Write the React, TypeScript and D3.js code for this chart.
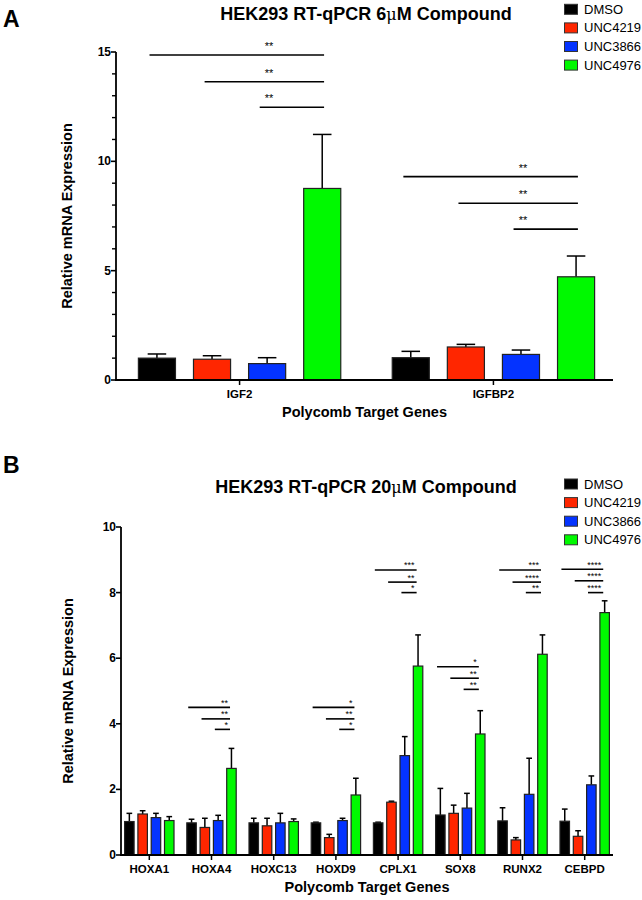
import React from "react";
import * as d3 from "d3";

const series = ["DMSO", "UNC4219", "UNC3866", "UNC4976"];
const seriesColors = ["#000000", "#FF2600", "#0433FF", "#00F900"];

// Panel A
const genesA = ["IGF2", "IGFBP2"];
const meansA = [
  [1.0, 0.95, 0.75, 8.76],
  [1.02, 1.51, 1.17, 4.72],
];
const errsA = [
  [0.19, 0.16, 0.27, 2.47],
  [0.29, 0.12, 0.2, 0.95],
];
const yTicksA = [0, 5, 10, 15];
const sigA = [
  { gene: "IGF2", from: 0, to: 3, y: 14.86, label: "**" },
  { gene: "IGF2", from: 1, to: 3, y: 13.64, label: "**" },
  { gene: "IGF2", from: 2, to: 3, y: 12.47, label: "**" },
  { gene: "IGFBP2", from: 0, to: 3, y: 9.3, label: "**" },
  { gene: "IGFBP2", from: 1, to: 3, y: 8.08, label: "**" },
  { gene: "IGFBP2", from: 2, to: 3, y: 6.9, label: "**" },
];

// Panel B
const genesB = ["HOXA1", "HOXA4", "HOXC13", "HOXD9", "CPLX1", "SOX8", "RUNX2", "CEBPD"];
const meansB = [
  [1.02, 1.25, 1.14, 1.05],
  [0.98, 0.84, 1.05, 2.64],
  [0.98, 0.89, 0.98, 1.02],
  [0.98, 0.53, 1.05, 1.83],
  [0.98, 1.61, 3.03, 5.76],
  [1.22, 1.27, 1.43, 3.69],
  [1.04, 0.46, 1.85, 6.12],
  [1.03, 0.57, 2.14, 7.39],
];
const errsB = [
  [0.25, 0.1, 0.13, 0.12],
  [0.11, 0.28, 0.16, 0.61],
  [0.14, 0.23, 0.29, 0.08],
  [0.02, 0.1, 0.07, 0.51],
  [0.02, 0.03, 0.58, 0.95],
  [0.81, 0.25, 0.45, 0.71],
  [0.4, 0.07, 1.1, 0.59],
  [0.37, 0.17, 0.27, 0.36],
];
const yTicksB = [0, 2, 4, 6, 8, 10];
const sigB = [
  { gene: "HOXA4", from: 0, to: 3, y: 4.5, label: "**" },
  { gene: "HOXA4", from: 1, to: 3, y: 4.15, label: "**" },
  { gene: "HOXA4", from: 2, to: 3, y: 3.83, label: "*" },
  { gene: "HOXD9", from: 0, to: 3, y: 4.5, label: "*" },
  { gene: "HOXD9", from: 1, to: 3, y: 4.15, label: "**" },
  { gene: "HOXD9", from: 2, to: 3, y: 3.83, label: "*" },
  { gene: "CPLX1", from: 0, to: 3, y: 8.69, label: "***" },
  { gene: "CPLX1", from: 1, to: 3, y: 8.32, label: "**" },
  { gene: "CPLX1", from: 2, to: 3, y: 8.0, label: "*" },
  { gene: "SOX8", from: 0, to: 3, y: 5.74, label: "*" },
  { gene: "SOX8", from: 1, to: 3, y: 5.39, label: "**" },
  { gene: "SOX8", from: 2, to: 3, y: 5.05, label: "**" },
  { gene: "RUNX2", from: 0, to: 3, y: 8.69, label: "***" },
  { gene: "RUNX2", from: 1, to: 3, y: 8.32, label: "****" },
  { gene: "RUNX2", from: 2, to: 3, y: 8.0, label: "**" },
  { gene: "CEBPD", from: 0, to: 3, y: 8.71, label: "****" },
  { gene: "CEBPD", from: 1, to: 3, y: 8.36, label: "****" },
  { gene: "CEBPD", from: 2, to: 3, y: 8.0, label: "****" },
];

const FONT = "'Liberation Sans', Arial, Helvetica, sans-serif";

type Sig = { gene: string; from: number; to: number; y: number; label: string };

type PanelProps = {
  letter: string;
  letterY: number;
  titleMain: string;
  titleConc: string;
  titleY: number;
  legendY: number;
  genes: string[];
  means: number[][];
  errs: number[][];
  yMax: number;
  yTicks: number[];
  minorStep: number | null;
  y0: number;
  y1: number;
  axisX: number;
  axisEnd: number;
  groupRange: [number, number];
  groupPadding: number;
  subHalf: number;
  subPadInner: number;
  subPadOuter: number;
  sigs: Sig[];
  starMode: "middle" | "end";
  starSize: number;
  sigStart: number;
  sigEnd: number;
  capFrac: number;
  yTitleX: number;
};

function Panel(p: PanelProps) {
  const y = d3.scaleLinear().domain([0, p.yMax]).range([p.y0, p.y1]);
  const xg = d3.scalePoint<string>().domain(p.genes).range(p.groupRange).padding(p.groupPadding);
  const xs = d3
    .scaleBand<number>()
    .domain(series.map((_, i) => i))
    .range([-p.subHalf, p.subHalf])
    .paddingInner(p.subPadInner)
    .paddingOuter(p.subPadOuter);
  const bw = xs.bandwidth();
  const center = (g: string, i: number) => (xg(g) as number) + (xs(i) as number) + bw / 2;
  const minor = p.minorStep ? d3.range(0, p.yMax + 1e-9, p.minorStep).filter((v) => !p.yTicks.includes(v)) : [];
  const midY = (p.y0 + p.y1) / 2;
  const midX = (p.axisX + p.axisEnd) / 2;

  return (
    <g fontFamily={FONT} fill="#000">
      <text x={3} y={p.letterY} fontSize={23} fontWeight="bold">{p.letter}</text>
      <text x={366} y={p.titleY} fontSize={18} fontWeight="bold" textAnchor="middle">
        {p.titleMain}
        <tspan fontWeight="normal" fontSize={16} fontFamily="'DejaVu Serif', serif">μ</tspan>
        {p.titleConc}
      </text>
      {/* legend */}
      {series.map((s, i) => (
        <g key={s}>
          <rect x={564.5} y={p.legendY + i * 18.6 - 5} width={13} height={10} fill={seriesColors[i]} stroke="#333" strokeWidth={1} />
          <text x={584} y={p.legendY + i * 18.6 + 4.5} fontSize={13} fill="#000">{s}</text>
        </g>
      ))}
      {/* bars */}
      {p.genes.map((g, gi) =>
        series.map((_, i) => {
          const v = p.means[gi][i];
          const e = p.errs[gi][i];
          const cx = center(g, i);
          const cap = bw * p.capFrac;
          return (
            <g key={g + i}>
              <line x1={cx} x2={cx} y1={y(v)} y2={y(v + e)} stroke="#000" strokeWidth={1.5} />
              <line x1={cx - cap / 2} x2={cx + cap / 2} y1={y(v + e)} y2={y(v + e)} stroke="#000" strokeWidth={1.5} />
              <rect x={cx - bw / 2} y={y(v)} width={bw} height={y(0) - y(v)} fill={seriesColors[i]} stroke="#222" strokeWidth={1.2} />
            </g>
          );
        })
      )}
      {/* significance */}
      {p.sigs.map((s, k) => {
        const x1 = center(s.gene, s.from) - bw * p.sigStart;
        const x2 = center(s.gene, s.to) + bw * p.sigEnd;
        const yy = y(s.y);
        const tx = p.starMode === "middle" ? center(s.gene, 2) + 2 : x2 - 2;
        return (
          <g key={k}>
            <line x1={x1} x2={x2} y1={yy} y2={yy} stroke="#000" strokeWidth={1.6} />
            <text x={tx} y={yy - (p.starMode === "middle" ? 5 : 1.5)} fontSize={p.starSize} fill="#000" textAnchor={p.starMode === "middle" ? "middle" : "end"}>{s.label}</text>
          </g>
        );
      })}
      {/* y axis */}
      <line x1={p.axisX} x2={p.axisX} y1={p.y0 + 1} y2={p.y1} stroke="#000" strokeWidth={1.8} />
      {p.yTicks.map((t) => (
        <g key={t}>
          <line x1={p.axisX - 5} x2={p.axisX} y1={y(t)} y2={y(t)} stroke="#000" strokeWidth={1.6} />
          <text x={p.axisX - 5} y={y(t) + 4} fontSize={12} fontWeight="bold" textAnchor="end">{t}</text>
        </g>
      ))}
      {minor.map((t) => (
        <line key={"m" + t} x1={p.axisX - 4} x2={p.axisX} y1={y(t)} y2={y(t)} stroke="#000" strokeWidth={1.4} />
      ))}
      {/* x axis */}
      <line x1={p.axisX - 1} x2={p.axisEnd} y1={p.y0} y2={p.y0} stroke="#000" strokeWidth={1.8} />
      {p.genes.map((g) => (
        <g key={"x" + g}>
          <line x1={xg(g)} x2={xg(g)} y1={p.y0} y2={p.y0 + 5} stroke="#000" strokeWidth={1.5} />
          <text x={xg(g)} y={p.y0 + 18} fontSize={11.5} fontWeight="bold" textAnchor="middle">{g}</text>
        </g>
      ))}
      <text x={midX} y={p.y0 + 37} fontSize={14.5} fontWeight="bold" textAnchor="middle">Polycomb Target Genes</text>
      <text transform={`translate(${p.yTitleX},${midY}) rotate(-90)`} fontSize={14.5} fontWeight="bold" textAnchor="middle">Relative mRNA Expression</text>
    </g>
  );
}

export default function App() {
  return (
    <svg width={642} height={900} style={{ position: "absolute", left: 0, top: 0, background: "#fff" }}>
      <rect width={642} height={900} fill="#fff" />
      <Panel
        letter="A"
        letterY={27}
        titleMain="HEK293 RT-qPCR 6"
        titleConc="M Compound"
        titleY={20}
        legendY={9.3}
        genes={genesA}
        means={meansA}
        errs={errsA}
        yMax={15}
        yTicks={yTicksA}
        minorStep={1}
        y0={380}
        y1={52}
        axisX={116}
        axisEnd={613}
        groupRange={[119, 614]}
        groupPadding={0.475}
        subHalf={110}
        subPadInner={0.327}
        subPadOuter={0.16}
        sigs={sigA}
        starMode="middle"
        starSize={11}
        sigStart={0.2}
        sigEnd={0.05}
        capFrac={0.5}
        yTitleX={72}
      />
      <Panel
        letter="B"
        letterY={473}
        titleMain="HEK293 RT-qPCR 20"
        titleConc="M Compound"
        titleY={493}
        legendY={484}
        genes={genesB}
        means={meansB}
        errs={errsB}
        yMax={10}
        yTicks={yTicksB}
        minorStep={null}
        y0={855}
        y1={527}
        axisX={121}
        axisEnd={613}
        groupRange={[121, 613]}
        groupPadding={0.455}
        subHalf={26.6}
        subPadInner={0.286}
        subPadOuter={0.143}
        sigs={sigB}
        starMode="end"
        starSize={9}
        sigStart={0.35}
        sigEnd={-0.15}
        capFrac={0.6}
        yTitleX={73}
      />
    </svg>
  );
}
